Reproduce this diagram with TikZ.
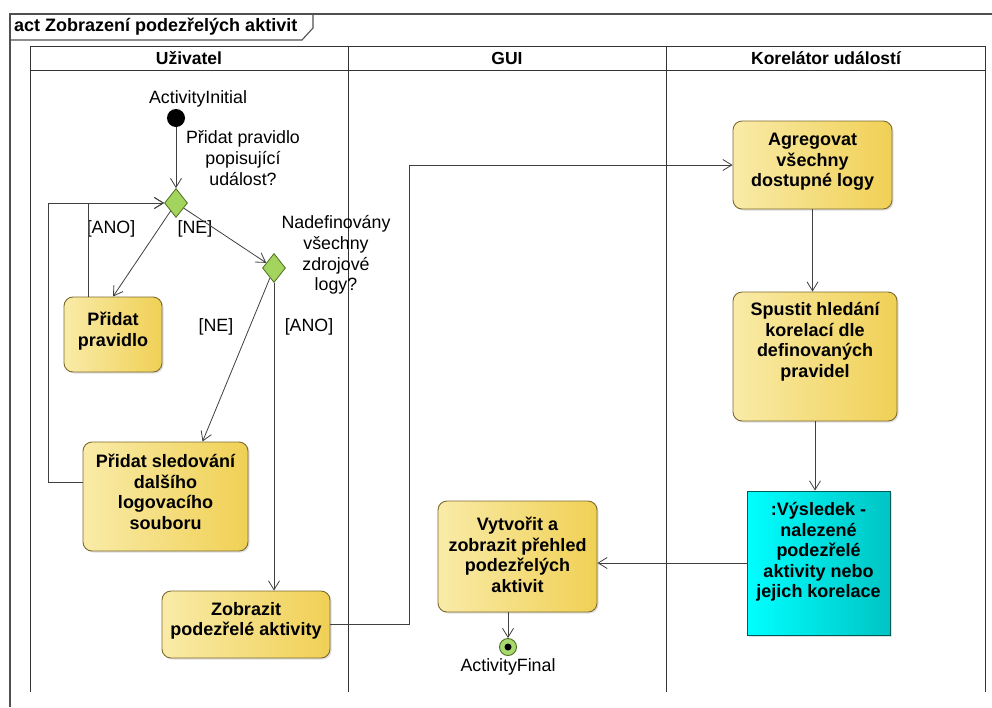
\documentclass[tikz,border=0pt]{standalone}
\usepackage{fontspec}
\setmainfont{Liberation Sans}
\usetikzlibrary{arrows.meta,shapes.geometric,shadows,calc}
\definecolor{actL}{HTML}{F9EBA8}
\definecolor{actR}{HTML}{F0D055}
\definecolor{actB}{HTML}{7D6A2E}
\definecolor{decF}{HTML}{A2D45E}
\definecolor{decB}{HTML}{4E6E1E}
\definecolor{objL}{HTML}{00FFFF}
\definecolor{objR}{HTML}{00C4C4}
\definecolor{objB}{HTML}{005A5A}
\definecolor{lineC}{HTML}{404040}
\definecolor{frameC}{HTML}{505050}
\definecolor{finF}{HTML}{A8D870}
\begin{document}
\begin{tikzpicture}[x=1pt,y=-1pt,
  actbox/.style={draw=actB, line width=0.9pt, rounded corners=9pt, left color=actL, right color=actR,
    drop shadow={shadow xshift=1.5pt,shadow yshift=-1.5pt,opacity=0.25}, inner sep=0pt},
  objbox/.style={draw=objB, line width=0.9pt, left color=objL, right color=objR,
    drop shadow={shadow xshift=1.5pt,shadow yshift=-1.5pt,opacity=0.25}, inner sep=0pt},
  acttxt/.style={font=\fontsize{18}{20.5}\selectfont\bfseries, align=center, inner sep=0pt},
  lbl/.style={font=\fontsize{17.8}{20.8}\selectfont, align=center, inner sep=0pt},
  hdr/.style={font=\fontsize{17.5}{18}\selectfont\bfseries, inner sep=0pt},
  decision/.style={diamond, draw=decB, fill=decF, line width=0.8pt, inner sep=0pt, minimum width=23pt, minimum height=29pt},
  flow/.style={draw=lineC, line width=0.8pt, -{Straight Barb[length=9pt,width=11pt]}},
  frm/.style={draw=frameC, line width=1.1pt},
  lane/.style={draw=black!80, line width=0.9pt}
]
\useasboundingbox (0,0) rectangle (992,707);
\fill[white] (0,0) rectangle (992,707);

% frame
\draw[frm] (10,707) -- (10,14) -- (992,14);
\draw[frm] (10,40) -- (302,40) -- (313,28) -- (313,14);
\node[font=\fontsize{18}{20}\selectfont\bfseries, anchor=west, inner sep=0pt] (title) at (14,27) {act Zobrazení podezřelých aktivit};

% swimlanes
\draw[lane] (30,692) -- (30,46) -- (985,46) -- (985,692);
\draw[lane] (30,70) -- (985,70);
\draw[lane] (348,46) -- (348,692);
\draw[lane] (666,46) -- (666,692);
\node[hdr] (h1) at (189,58) {Uživatel};
\node[hdr] (h2) at (507,58) {GUI};
\node[hdr] (h3) at (826,58) {Korelátor událostí};

% initial
\node[circle, fill=black, minimum size=18pt, inner sep=0pt] (init) at (176,118) {};
\node[lbl] (initl) at (198,99) {ActivityInitial};

% decisions
\node[decision] (d1) at (176,203) {};
\node[decision] (d2) at (274,268) {};
\node[lbl] (d1l) at (243,158) {Přidat pravidlo\\popisující\\událost?};
\node[lbl] (d2l) at (336,255) {Nadefinovány\\všechny\\zdrojové\\logy?};
\node[lbl] (g1) at (111,229) {[ANO]};
\node[lbl] (g2) at (195,229) {[NE]};
\node[lbl] (g3) at (216,327) {[NE]};
\node[lbl] (g4) at (309,327) {[ANO]};

% actions
\node[actbox, minimum width=98pt, minimum height=75pt] (pp) at (113,334.5) {};
\node[acttxt] (ppt) at (113,331) {Přidat\\pravidlo};
\node[actbox, minimum width=165pt, minimum height=109pt] (ps) at (165.5,496.5) {};
\node[acttxt] (pst) at (165.5,492) {Přidat sledování\\dalšího\\logovacího\\souboru};
\node[actbox, minimum width=168pt, minimum height=67pt] (zob) at (246,624.5) {};
\node[acttxt] (zobt) at (246,621) {Zobrazit\\podezřelé aktivity};
\node[actbox, minimum width=159pt, minimum height=111pt] (vyt) at (517.5,556.5) {};
\node[acttxt] (vytt) at (517.5,555) {Vytvořit a\\zobrazit přehled\\podezřelých\\aktivit};
\node[actbox, minimum width=159pt, minimum height=88pt] (agr) at (812.5,165) {};
\node[acttxt] (agrt) at (812.5,162) {Agregovat\\všechny\\dostupné logy};
\node[actbox, minimum width=164pt, minimum height=129pt] (sp) at (815,356.5) {};
\node[acttxt] (spt) at (815,342) {Spustit hledání\\korelací dle\\definovaných\\pravidel};
\node[objbox, minimum width=143pt, minimum height=144pt] (vys) at (818.5,563) {};
\node[acttxt] (vyst) at (818.5,552) {:Výsledek -\\nalezené\\podezřelé\\aktivity nebo\\jejich korelace};

% final
\node[circle, draw=decB, fill=finF, line width=0.9pt, minimum size=17pt, inner sep=0pt] (fin) at (508,647) {};
\node[circle, fill=black, minimum size=7pt, inner sep=0pt] (find) at (508,647) {};
\node[lbl] (finl) at (508,667) {ActivityFinal};

% coordinates
\coordinate (ppTop) at ($(pp.north west)+(25,0)$);
\coordinate (psL) at ($(ps.west)+(0,-14.5)$);
\coordinate (loopC) at (48,203);
\coordinate (psIn) at ($(ps.north west)+(120,0)$);
\coordinate (xm) at (409,0);

% flows
\draw[flow] (init) -- (d1);
\draw[flow] (d1) -- (pp.north);
\draw[flow] (ppTop) |- (d1.west);
\draw[flow] (psL) -| (loopC) -- (d1.west);
\draw[flow] (d1) -- (d2);
\draw[flow] (d2) -- (psIn);
\draw[flow] (d2.south) -- (d2.south |- zob.north);
\draw[flow] (zob.east) -- (zob.east -| xm) |- (agr.west);
\draw[flow] (agr.south) -- (agr.south |- sp.north);
\draw[flow] (sp.south) -- (sp.south |- vys.north);
\draw[flow] (vys.west) -- (vys.west -| vyt.east);
\draw[flow] (fin |- vyt.south) -- (fin);
\end{tikzpicture}
\end{document}
